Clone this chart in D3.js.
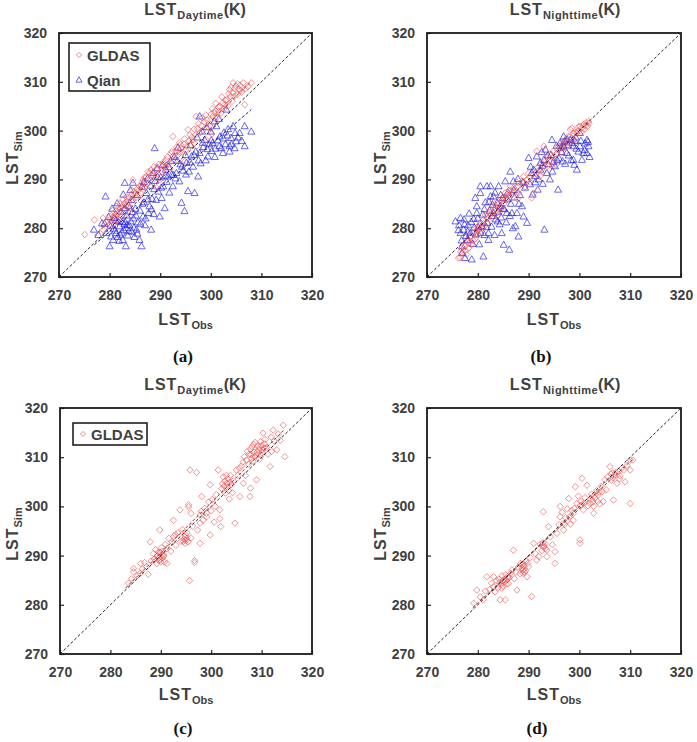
<!DOCTYPE html>
<html><head><meta charset="utf-8">
<script src="https://cdn.jsdelivr.net/npm/d3@7"></script>
<style>body{margin:0;background:#fff}svg{display:block}</style>
</head><body>
<svg id="c" width="697" height="742"></svg>
<script>
const ticks = [270,280,290,300,310,320];
const domain = [270,320];

const gldasDayA = [[275.1,278.7],[277.0,281.7],[278.7,279.7],[278.7,282.1],[279.3,281.2],[279.8,280.6],[280.0,282.5],[280.4,281.4],[280.6,283.6],[280.9,280.9],[281.2,282.8],[281.4,284.5],[281.7,281.8],[281.9,283.3],[282.1,285.0],[282.3,282.6],[282.6,285.8],[282.8,283.9],[283.0,282.4],[283.2,284.6],[283.3,286.4],[283.6,283.4],[283.8,285.3],[284.1,284.2],[284.3,286.9],[284.6,285.8],[284.6,289.9],[284.9,287.4],[285.2,286.3],[285.5,288.1],[285.9,288.6],[286.1,287.2],[286.4,289.3],[286.6,289.9],[286.9,288.3],[287.2,290.5],[287.5,289.1],[287.9,291.3],[288.1,289.8],[288.4,290.9],[288.7,292.6],[288.9,290.2],[289.2,292.0],[289.5,291.1],[289.9,289.9],[290.1,292.9],[290.4,291.6],[290.7,293.6],[291.0,292.4],[291.2,294.0],[291.5,293.1],[291.9,292.3],[292.1,295.3],[292.5,294.7],[292.5,298.8],[292.8,293.8],[293.1,295.9],[293.4,294.9],[293.8,295.4],[293.8,297.5],[294.1,296.3],[294.4,295.6],[294.7,297.2],[295.0,296.0],[295.2,296.8],[295.5,300.2],[295.7,297.9],[296.0,296.9],[296.2,298.6],[296.5,298.1],[296.8,297.4],[297.1,299.2],[297.1,302.9],[297.4,300.4],[297.8,299.5],[297.8,296.1],[298.1,301.0],[298.4,300.0],[298.7,301.8],[299.1,298.1],[299.3,302.2],[299.6,300.6],[299.8,300.9],[300.1,303.4],[300.4,302.9],[300.6,301.5],[300.9,304.1],[301.2,302.7],[301.5,304.8],[301.8,305.0],[302.0,303.6],[302.3,305.6],[302.6,304.4],[302.9,306.2],[303.1,306.3],[303.4,305.1],[303.7,308.4],[303.9,307.0],[304.2,306.0],[304.4,309.8],[304.4,307.7],[304.7,308.6],[305.0,309.1],[305.2,307.4],[305.5,308.5],[305.8,309.3],[306.1,307.9],[306.7,305.3],[306.9,308.6],[307.3,309.0],[308.0,309.8],[300.2,299.3],[289.3,288.3],[286.2,285.6],[294.9,293.7],
[280.2,281.9],[280.8,282.3],[281.3,283.6],[281.6,282.9],[282.0,284.1],[282.4,284.4],[282.9,285.1],[283.4,285.5],[283.9,286.3],[284.4,287.8],[285.0,286.9],[285.7,287.7],[286.3,288.8],[286.9,290.4],[287.6,291.6],[288.2,291.9],[288.8,291.5],[289.7,293.1],[290.6,292.9],[291.4,294.6],[292.3,295.7],[293.2,296.6],[294.0,297.1],[294.8,298.3],[295.9,299.1],[296.7,300.3],[297.6,301.4],[298.3,302.6],[299.0,303.2],[299.9,302.1],[300.7,303.7],[301.6,303.9],[302.2,306.9],[302.8,305.3],[303.5,307.6],[304.0,308.9],[304.6,307.0],[305.3,309.6],[305.9,308.2],[306.4,309.8],[301.0,305.6],[300.3,304.5]];

const qianDayA = [[276.9,279.7],[277.8,278.6],[278.5,281.0],[279.2,286.5],[279.4,279.0],[279.8,282.3],[280.0,276.3],[280.2,280.4],[280.5,284.0],[280.7,277.6],[280.9,282.1],[281.1,279.5],[281.3,279.0],[281.5,285.1],[281.7,281.4],[281.9,277.4],[282.0,280.4],[282.2,283.4],[282.4,279.1],[282.6,277.6],[282.7,286.9],[282.9,280.8],[283.0,289.3],[283.2,276.3],[283.3,280.0],[283.4,282.6],[283.6,278.5],[283.7,284.6],[283.9,280.6],[284.1,287.8],[284.3,285.8],[284.4,279.3],[284.6,289.3],[284.7,282.0],[284.9,278.2],[285.1,284.0],[285.3,279.7],[285.4,286.8],[285.6,281.2],[285.9,277.6],[286.0,283.6],[286.3,276.3],[286.4,288.5],[286.6,282.4],[286.8,285.3],[287.0,280.6],[287.3,287.2],[287.5,290.2],[287.7,283.1],[287.9,284.5],[288.1,288.7],[288.2,279.7],[288.4,286.0],[288.6,291.3],[288.7,282.9],[288.9,296.4],[289.0,289.7],[289.2,285.8],[289.4,292.3],[289.6,287.5],[289.9,282.4],[290.1,290.4],[290.3,286.2],[290.6,288.6],[290.9,284.1],[291.1,292.0],[291.3,289.5],[291.5,290.6],[291.8,287.3],[292.1,293.8],[292.3,291.0],[292.5,288.6],[292.8,294.6],[293.0,290.2],[293.2,291.3],[293.5,296.5],[293.8,289.6],[294.0,293.1],[294.2,285.2],[294.5,291.8],[294.8,283.5],[295.0,295.0],[295.2,293.4],[295.5,287.6],[295.7,291.6],[296.0,297.0],[296.2,294.7],[296.5,292.6],[296.8,287.2],[297.0,295.7],[297.3,298.6],[297.5,290.6],[297.8,295.4],[297.8,302.9],[298.0,293.3],[298.3,299.8],[298.5,296.6],[298.8,298.1],[299.0,293.9],[299.2,300.7],[299.4,294.7],[299.7,297.2],[300.0,299.8],[300.2,295.8],[300.4,297.5],[300.7,301.9],[300.9,296.3],[301.1,300.9],[301.4,298.0],[301.6,302.4],[301.8,298.8],[302.1,296.4],[302.4,295.4],[302.6,299.6],[302.9,297.2],[303.1,304.3],[303.4,300.3],[303.7,296.8],[303.7,295.7],[304.0,298.5],[304.4,300.9],[304.7,296.4],[305.0,297.8],[305.4,298.6],[305.7,299.5],[306.1,297.9],[306.7,296.8],[306.7,300.9],[308.0,299.8],
[280.3,278.3],[280.8,279.9],[281.2,281.6],[281.6,278.2],[282.1,278.7],[282.5,281.3],[282.8,279.6],[283.1,281.2],[283.5,280.7],[283.8,279.4],[284.2,281.4],[284.5,283.3],[284.8,280.1],[285.2,282.6],[285.5,278.9],[286.1,280.9],[286.5,285.0],[287.1,282.0],[287.6,285.9],[288.3,283.9],[288.8,288.0],[289.5,290.5],[290.2,288.3],[291.0,290.8],[291.7,292.5],[292.6,290.9],[293.4,293.8],[294.3,292.6],[295.1,291.0],[295.9,293.5],[296.7,295.0],[297.6,293.9],[298.4,297.5],[299.3,296.2],[300.1,298.0],[300.8,294.6],[301.7,296.8],[302.5,298.4],[303.3,299.0],[304.1,297.2],[304.8,299.5],[283.0,284.1],[286.8,289.5],[290.5,293.0],[279.0,280.9]];

const gldasNightB = [[276.2,273.9],[276.6,275.2],[276.9,274.9],[277.2,276.6],[277.5,276.3],[277.8,274.6],[278.0,277.3],[278.2,277.6],[278.2,275.9],[278.5,278.3],[278.8,276.7],[279.0,279.1],[279.2,279.0],[279.5,277.8],[279.8,280.2],[280.0,278.6],[280.2,279.7],[280.5,281.1],[280.7,279.4],[281.0,281.6],[281.2,280.3],[281.5,282.7],[281.8,282.4],[282.0,281.1],[282.3,283.3],[282.5,283.8],[282.8,282.2],[283.1,285.2],[283.3,283.6],[283.6,284.6],[283.8,283.1],[284.1,285.0],[284.4,285.8],[284.6,284.1],[284.9,286.3],[285.1,285.0],[285.4,287.2],[285.7,285.9],[285.9,286.6],[286.2,287.8],[286.4,288.6],[286.7,286.9],[287.0,288.3],[287.4,287.6],[287.7,289.4],[288.0,287.2],[288.4,288.9],[288.7,289.6],[289.0,290.6],[289.3,288.5],[289.7,289.9],[290.0,291.3],[290.3,289.4],[290.6,286.2],[291.0,287.2],[291.3,291.3],[291.6,295.8],[291.8,292.4],[292.2,290.6],[292.5,293.3],[292.8,291.6],[293.0,296.8],[293.3,293.9],[293.6,294.7],[293.9,292.8],[294.2,295.1],[294.6,292.7],[294.9,295.9],[295.2,294.2],[295.6,295.4],[295.9,296.8],[296.2,296.8],[296.5,295.5],[296.8,297.7],[297.2,298.1],[297.5,296.6],[297.8,298.8],[298.2,300.2],[298.5,300.5],[298.8,298.0],[299.2,299.6],[299.5,299.5],[299.8,300.8],[300.1,300.9],[300.4,299.7],[300.8,301.2],[301.0,300.3],[301.3,301.6],[301.6,300.9],[301.9,301.5],[299.0,297.2],[295.4,293.0],[287.8,286.0],[284.0,282.7],[280.9,280.0],
[276.5,274.0],[277.0,275.6],[277.6,275.4],[278.4,277.0],[279.1,277.5],[279.7,278.9],[280.3,280.6],[281.1,280.9],[281.9,282.0],[282.6,282.8],[283.4,284.0],[284.2,284.0],[285.0,285.7],[285.8,286.9],[286.8,287.6],[287.9,288.6],[289.1,289.3],[290.2,290.5],[291.1,290.2],[292.0,291.9],[293.1,292.8],[294.0,293.7],[294.8,294.5],[295.7,296.1],[296.6,296.4],[297.4,297.4],[298.1,298.7],[298.9,299.4],[299.7,299.9],[300.5,300.6],[301.2,301.0],[301.8,301.9]];

const qianNightB = [[275.6,281.4],[276.2,279.6],[276.6,282.1],[276.6,279.0],[276.9,276.3],[276.9,274.9],[277.2,279.7],[277.3,281.8],[277.5,273.9],[277.7,278.4],[277.9,277.6],[278.1,280.6],[278.3,283.0],[278.5,279.0],[278.8,273.6],[279.0,276.8],[279.2,281.9],[279.5,286.2],[279.6,278.7],[279.8,284.5],[279.8,283.1],[280.1,280.2],[280.3,276.7],[280.5,288.6],[280.5,287.2],[280.8,280.4],[281.0,282.8],[281.1,274.2],[281.3,278.6],[281.5,285.3],[281.8,288.6],[281.9,281.1],[282.1,279.0],[282.1,277.6],[282.3,283.6],[282.5,288.6],[282.5,286.5],[282.7,280.3],[282.9,284.8],[283.1,286.5],[283.1,283.1],[283.3,278.6],[283.5,281.8],[283.8,285.2],[284.0,283.4],[284.1,288.6],[284.3,280.8],[284.4,284.5],[284.6,282.2],[284.7,279.0],[284.9,286.2],[285.1,276.6],[285.2,283.9],[285.4,289.6],[285.6,281.2],[285.7,283.1],[285.9,287.3],[286.2,275.6],[286.4,291.6],[286.5,285.0],[286.7,283.1],[286.9,280.0],[287.0,289.6],[287.2,286.3],[287.4,280.4],[287.7,283.1],[287.9,290.1],[288.0,278.3],[288.3,286.8],[288.7,284.5],[289.0,282.4],[289.3,288.3],[289.7,281.1],[290.0,294.4],[290.3,289.0],[290.6,291.3],[290.8,286.9],[291.0,292.0],[291.3,289.4],[291.6,294.7],[291.8,287.9],[292.0,290.0],[292.3,293.4],[292.3,292.0],[292.6,295.6],[292.8,289.1],[293.0,294.0],[293.1,279.7],[293.3,296.1],[293.6,291.3],[293.9,293.1],[294.2,290.0],[294.4,295.0],[294.6,298.1],[294.9,293.6],[295.2,292.7],[295.5,296.9],[295.8,287.9],[296.0,294.3],[296.2,297.5],[296.5,295.6],[296.9,298.8],[296.9,296.8],[297.2,293.2],[297.5,295.4],[297.8,297.0],[298.2,298.1],[298.4,293.9],[298.8,296.8],[298.8,294.0],[299.1,297.9],[299.5,292.0],[299.8,295.7],[300.1,299.5],[300.1,296.8],[300.5,294.0],[300.8,295.4],[301.1,297.4],[301.5,298.1],[301.5,295.4],[301.8,296.8],[302.0,294.6],[299.3,298.6],[297.6,298.2],
[276.3,280.6],[276.8,277.5],[277.4,280.8],[278.0,279.3],[278.7,281.3],[279.3,280.1],[280.0,282.0],[280.6,279.0],[281.3,283.9],[281.7,280.2],[282.2,285.4],[282.8,282.5],[283.4,287.3],[283.9,281.4],[284.5,286.8],[285.0,284.0],[285.8,285.9],[286.3,282.5],[287.1,287.8],[288.1,285.0],[288.9,289.4],[290.4,292.6],[291.4,290.7],[292.7,292.8],[293.8,294.9],[294.7,291.6],[295.6,294.0],[296.4,296.5],[297.1,297.8],[297.9,294.9],[298.6,297.5],[299.4,296.3],[300.3,297.9],[301.0,296.0],[301.7,297.7],[296.7,293.7],[299.0,293.0]];

const gldasDayC = [[283.6,284.4],[284.2,285.3],[284.6,287.4],[284.6,286.7],[285.3,285.9],[285.9,286.4],[286.3,287.3],[286.8,288.6],[287.2,287.8],[287.5,286.2],[287.9,292.8],[288.1,288.9],[288.5,290.4],[288.7,289.3],[289.0,291.2],[289.2,288.4],[289.4,290.0],[289.6,289.0],[289.8,295.2],[289.9,290.6],[290.1,291.6],[290.3,289.5],[290.5,290.3],[290.7,288.7],[290.9,292.3],[291.2,291.4],[291.2,288.4],[291.6,293.5],[292.0,290.9],[292.5,297.2],[292.6,293.9],[293.0,292.1],[293.4,294.6],[293.8,299.3],[294.0,292.9],[294.3,295.3],[294.6,293.3],[294.8,293.8],[294.8,292.5],[295.0,293.1],[295.2,294.6],[295.5,300.3],[295.5,299.9],[295.7,284.9],[295.8,307.4],[296.0,293.6],[296.3,296.0],[296.7,289.0],[296.7,288.6],[297.1,306.9],[297.3,295.2],[297.8,292.5],[297.8,296.6],[298.1,302.0],[298.4,297.2],[298.7,299.6],[299.1,298.6],[299.1,297.9],[299.5,300.9],[299.8,304.4],[299.8,294.2],[300.2,301.4],[300.6,296.8],[301.0,302.4],[301.4,307.4],[301.7,299.3],[301.7,297.5],[301.9,295.9],[302.1,303.6],[302.4,306.0],[302.6,304.1],[302.8,302.7],[303.1,304.7],[303.3,305.6],[303.5,303.2],[303.8,306.3],[304.0,304.4],[304.2,302.8],[304.4,305.2],[304.7,296.6],[305.0,307.4],[305.3,306.3],[305.7,302.0],[306.0,308.2],[306.4,304.7],[306.6,310.1],[307.0,309.4],[307.2,311.2],[307.4,308.6],[307.7,302.0],[307.8,303.7],[307.9,310.5],[308.1,312.1],[308.3,309.2],[308.5,311.0],[308.7,313.0],[308.9,310.4],[309.0,305.4],[309.2,312.3],[309.4,311.5],[309.6,309.6],[309.8,313.2],[310.0,312.4],[310.1,310.9],[310.3,314.9],[310.5,311.9],[310.7,313.6],[311.0,312.0],[311.3,310.6],[311.7,308.1],[311.9,314.1],[312.3,315.5],[312.5,313.3],[313.0,311.5],[313.3,314.7],[313.7,313.4],[314.3,316.5],[314.6,310.1],[312.0,311.2],[306.8,306.3],[303.6,301.5],[300.8,300.0],[297.8,298.3],[296.0,298.6],[292.2,292.8],[290.4,290.0],[289.7,289.6],
[289.3,289.9],[289.8,289.2],[290.2,290.9],[290.6,289.9],[289.5,290.7],[290.0,288.7],[294.5,292.9],[295.1,293.5],[295.4,292.8],[294.9,294.2],[302.7,305.1],[303.2,303.9],[303.7,304.9],[303.0,306.3],[302.2,304.6],[307.5,310.6],[308.0,309.7],[308.6,310.1],[309.1,311.0],[309.6,312.0],[310.2,311.5],[308.4,312.6],[307.8,311.6],[309.9,310.3],[310.6,312.7],[306.3,309.0],[305.6,307.8],[298.0,299.0],[300.0,299.1],[286.0,288.4],[292.9,294.3]];

const gldasNightD = [[279.2,280.3],[279.8,283.0],[280.5,281.6],[281.1,281.0],[281.5,282.8],[281.8,285.7],[282.3,283.1],[282.7,284.4],[283.1,285.7],[283.1,283.7],[283.4,282.6],[283.7,284.9],[284.0,283.5],[284.2,285.2],[284.4,281.0],[284.5,284.1],[284.8,285.9],[285.0,283.8],[285.2,284.6],[285.4,281.0],[285.5,286.1],[285.7,285.0],[286.0,284.3],[286.2,285.6],[286.5,286.4],[286.7,287.1],[287.0,291.1],[287.2,285.3],[287.5,286.6],[287.7,283.0],[288.0,287.7],[288.3,286.3],[288.6,288.1],[288.8,287.0],[289.0,288.4],[289.0,287.1],[289.2,286.6],[289.5,288.9],[289.7,285.7],[290.0,287.8],[290.3,289.6],[290.6,281.7],[291.0,292.5],[291.3,290.4],[291.6,289.1],[292.0,289.8],[292.3,292.3],[292.6,291.0],[292.9,291.8],[292.9,298.9],[293.2,292.5],[293.6,291.1],[293.6,289.8],[293.9,295.9],[294.3,293.8],[294.7,292.2],[295.2,290.8],[295.2,288.4],[295.6,294.5],[296.0,296.3],[296.2,297.9],[296.2,300.0],[296.6,298.8],[296.9,296.6],[296.9,295.2],[297.3,297.7],[297.6,299.5],[297.9,301.6],[298.2,296.4],[298.5,299.2],[298.8,298.6],[298.8,297.2],[299.2,304.0],[299.5,300.6],[299.8,302.1],[300.1,293.2],[300.1,292.5],[300.3,301.0],[300.5,305.7],[300.8,300.6],[300.8,299.3],[301.1,301.8],[301.5,304.3],[301.7,300.1],[302.1,300.6],[302.4,302.5],[302.8,300.0],[302.8,298.6],[303.1,301.7],[303.4,303.2],[303.7,302.3],[304.0,300.5],[304.3,304.1],[304.7,301.0],[305.0,305.4],[305.3,303.4],[305.6,306.0],[306.0,308.1],[306.3,305.3],[306.7,301.3],[307.0,306.4],[307.4,304.7],[307.7,307.1],[308.0,306.2],[308.4,307.8],[308.7,307.4],[309.0,305.0],[309.4,308.3],[310.0,309.4],[310.0,307.4],[310.0,300.6],[310.5,309.4],[306.5,306.8],[304.5,303.0],[298.0,297.8],[288.4,288.4],[286.0,285.4],
[284.3,284.6],[284.7,283.4],[285.1,285.1],[285.6,284.2],[285.9,285.7],[284.9,284.9],[288.7,287.5],[289.1,287.9],[289.4,286.9],[288.9,286.4],[289.8,288.4],[293.0,292.0],[293.3,291.4],[292.8,292.6],[302.3,301.4],[302.9,302.2],[303.6,301.0],[303.9,302.9],[302.6,300.9],[306.6,305.8],[307.2,306.9],[307.9,305.6],[306.2,306.6],[300.2,300.2],[299.0,299.6],[297.1,296.3]];

// fitted regression segments [x1,y1,x2,y2]
const fitGldasA = [277, 278.4, 308, 310.1];
const fitQianA = [277, 276.6, 308, 304.3];
const fitGldasC = [283, 283.4, 314.5, 315.6];
const fitGldasD = [279, 279.4, 310.5, 309.6];
const oneToOne = [270, 270, 320, 320];

const panelTitles = ['Daytime','Nighttime','Daytime','Nighttime'];
const panelLetters = ['(a)','(b)','(c)','(d)'];

const RED = 'rgb(235,60,60)';
const BLUE = 'rgb(30,30,230)';
const TXT = '#404040';

const svg = d3.select('#c');

const layouts = [
  {x0:59, x1:312, y0:33, y1:277, tcx:195, ttl:15, ylx:18, xl:325, let:362, lcx:183},
  {x0:427, x1:681, y0:33, y1:277, tcx:565, ttl:15, ylx:386, xl:325, let:362, lcx:541},
  {x0:60, x1:312, y0:408, y1:654, tcx:195, ttl:390, ylx:18, xl:700, let:734, lcx:183},
  {x0:427, x1:681, y0:408, y1:654, tcx:565, ttl:390, ylx:386, xl:700, let:734, lcx:537}
];

const panelSeries = [
  [{data:qianDayA, shape:'tri'},{data:gldasDayA, shape:'dia'}],
  [{data:qianNightB, shape:'tri'},{data:gldasNightB, shape:'dia'}],
  [{data:gldasDayC, shape:'dia'}],
  [{data:gldasNightD, shape:'dia'}]
];
const panelFits = [
  [{f:fitGldasA, c:'#b02020'},{f:fitQianA, c:'#1a1a90'}],
  [],
  [{f:fitGldasC, c:'#b02020'}],
  [{f:fitGldasD, c:'#b02020'}]
];
const legends = [['GLDAS','Qian'], null, ['GLDAS'], null];

function diamond(g, cx, cy, r, col, op) {
  g.append('path').attr('d', `M${cx},${cy-r}L${cx+r},${cy}L${cx},${cy+r}L${cx-r},${cy}Z`)
    .attr('fill','none').attr('stroke',col).attr('stroke-opacity',op).attr('stroke-width',1);
}
function tri(g, cx, cy, s, col, op) {
  const h = s*0.9;
  g.append('path').attr('d', `M${cx},${cy-h*0.6}L${cx+s/2},${cy+h*0.4}L${cx-s/2},${cy+h*0.4}Z`)
    .attr('fill','none').attr('stroke',col).attr('stroke-opacity',op).attr('stroke-width',0.9);
}

layouts.forEach((L, i) => {
  const x = d3.scaleLinear().domain(domain).range([L.x0, L.x1]);
  const y = d3.scaleLinear().domain(domain).range([L.y1, L.y0]);
  const g = svg.append('g');

  const xa = d3.axisBottom(x).tickValues(ticks).tickSizeInner(-4).tickSizeOuter(0).tickPadding(13);
  const ya = d3.axisLeft(y).tickValues(ticks).tickSizeInner(-4).tickSizeOuter(0).tickPadding(12);
  const gx = g.append('g').attr('transform', `translate(0,${L.y1})`).call(xa);
  const gy = g.append('g').attr('transform', `translate(${L.x0},0)`).call(ya);
  [gx, gy].forEach(a => {
    a.select('.domain').remove();
    a.selectAll('line').attr('stroke','#222').attr('stroke-width',1.2);
    a.selectAll('text').attr('font-family','Liberation Sans, Arial, sans-serif')
      .attr('font-size',14).attr('font-weight','bold').attr('fill',TXT);
  });

  const pg = g.append('g');
  panelSeries[i].forEach(s => {
    s.data.forEach(d => {
      if (s.shape === 'dia') diamond(pg, x(d[0]), y(d[1]), 3.2, RED, 0.55);
      else tri(pg, x(d[0]), y(d[1]), 7, BLUE, 0.75);
    });
  });

  panelFits[i].forEach(f => {
    g.append('line').attr('x1', x(f.f[0])).attr('y1', y(f.f[1])).attr('x2', x(f.f[2])).attr('y2', y(f.f[3]))
      .attr('stroke', f.c).attr('stroke-width',1).attr('stroke-dasharray','3,2');
  });
  g.append('line').attr('x1', x(oneToOne[0])).attr('y1', y(oneToOne[1])).attr('x2', x(oneToOne[2])).attr('y2', y(oneToOne[3]))
    .attr('stroke','#111').attr('stroke-width',0.9).attr('stroke-dasharray','3,2');

  g.append('rect').attr('x', L.x0).attr('y', L.y0).attr('width', L.x1-L.x0).attr('height', L.y1-L.y0)
    .attr('fill','none').attr('stroke','#1a1a1a').attr('stroke-width',1.8);

  const t = g.append('text').attr('x', L.tcx).attr('y', L.ttl).attr('text-anchor','middle')
    .attr('font-family','Liberation Sans, Arial, sans-serif').attr('font-weight','bold').attr('fill',TXT);
  t.append('tspan').attr('font-size',16).attr('letter-spacing',1).text('LST');
  t.append('tspan').attr('font-size',11).attr('dy',4).attr('letter-spacing',0.5).text(panelTitles[i]);
  t.append('tspan').attr('font-size',16).attr('dy',-4).text('(K)');

  const cy = (L.y0 + L.y1)/2 + 3;
  const yl = g.append('text').attr('transform', `translate(${L.ylx},${cy}) rotate(-90)`).attr('text-anchor','middle')
    .attr('font-family','Liberation Sans, Arial, sans-serif').attr('font-weight','bold').attr('fill',TXT);
  yl.append('tspan').attr('font-size',16).attr('letter-spacing',1).text('LST');
  yl.append('tspan').attr('font-size',11).attr('dy',4).text('Sim');

  const cx = (L.x0 + L.x1)/2;
  const xl = g.append('text').attr('x', cx).attr('y', L.xl).attr('text-anchor','middle')
    .attr('font-family','Liberation Sans, Arial, sans-serif').attr('font-weight','bold').attr('fill',TXT);
  xl.append('tspan').attr('font-size',16).attr('letter-spacing',1).text('LST');
  xl.append('tspan').attr('font-size',11).attr('dy',4).text('Obs');

  g.append('text').attr('x', L.lcx).attr('y', L.let).attr('text-anchor','middle')
    .attr('font-family','Liberation Serif, Times New Roman, serif').attr('font-weight','bold')
    .attr('font-size',17).attr('fill','#111').text(panelLetters[i]);

  if (legends[i]) {
    const items = legends[i];
    const lx = L.x0 + (i === 0 ? 10 : 13);
    const ly = L.y0 + (i === 0 ? 10 : 15);
    const lw = i === 0 ? 81 : 74;
    const lh = items.length === 2 ? 48 : 22;
    const lg = g.append('g');
    lg.append('rect').attr('x', lx).attr('y', ly).attr('width', lw).attr('height', lh)
      .attr('fill','#fff').attr('stroke','#111').attr('stroke-width',1.5);
    items.forEach((name, k) => {
      const rowY = items.length === 2 ? ly + 12 + k*25 : ly + lh/2;
      if (name === 'GLDAS') diamond(lg, lx + 10, rowY, 2.6, RED, 0.6);
      else tri(lg, lx + 10, rowY, 6, BLUE, 0.75);
      lg.append('text').attr('x', lx + 18).attr('y', rowY + 5.5)
        .attr('font-family','Liberation Sans, Arial, sans-serif').attr('font-weight','bold')
        .attr('font-size',15).attr('fill',TXT).text(name);
    });
  }
});
</script>
</body></html>
